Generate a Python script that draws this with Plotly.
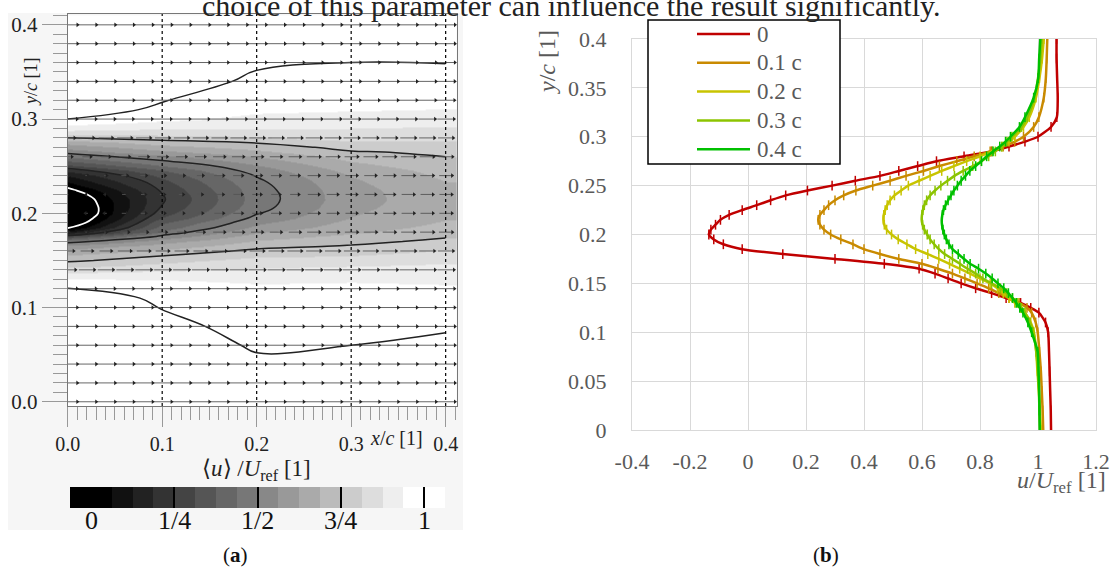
import plotly.graph_objects as go

# ---------------- data ----------------
profile_x = [0.0, 0.1, 0.2, 0.3, 0.4]          # x/c stations
series_names = ["0", "0.1 c", "0.2 c", "0.3 c", "0.4 c"]
series_colors = ["#c00000", "#c98a00", "#c8c400", "#8cc400", "#00c000"]

y_c = [0, 0.02, 0.04, 0.06, 0.08, 0.10, 0.11,
       0.12, 0.125, 0.13, 0.135, 0.14, 0.145, 0.15, 0.155, 0.16, 0.165, 0.17, 0.175,
       0.18, 0.185, 0.19, 0.195, 0.20, 0.205, 0.21, 0.215, 0.22, 0.225, 0.23, 0.235,
       0.24, 0.245, 0.25, 0.255, 0.26, 0.265, 0.27, 0.275, 0.28, 0.285, 0.29, 0.295, 0.30,
       0.31, 0.32, 0.34, 0.36, 0.38, 0.40]

u_x00 = [1.045, 1.044, 1.042, 1.040, 1.038, 1.035, 1.026,
         1.003, 0.975, 0.94, 0.89, 0.84, 0.785, 0.735, 0.69, 0.645, 0.59, 0.47, 0.30,
         0.12, -0.02, -0.085, -0.118, -0.135, -0.128, -0.112, -0.095, -0.065, -0.02, 0.03, 0.078,
         0.13, 0.205, 0.29, 0.37, 0.455, 0.52, 0.585, 0.65, 0.745, 0.84, 0.90, 0.955, 1.0,
         1.045, 1.065, 1.068, 1.066, 1.064, 1.064]
u_x01 = [1.018, 1.016, 1.013, 1.010, 1.005, 0.999, 0.992,
         0.978, 0.962, 0.935, 0.90, 0.865, 0.83, 0.79, 0.748, 0.705, 0.655, 0.60, 0.52,
         0.455, 0.40, 0.362, 0.32, 0.285, 0.262, 0.248, 0.242, 0.248, 0.262, 0.278, 0.30,
         0.33, 0.372, 0.43, 0.49, 0.545, 0.605, 0.66, 0.72, 0.78, 0.835, 0.88, 0.92, 0.95,
         0.985, 1.003, 1.02, 1.027, 1.03, 1.032]
u_x02 = [1.010, 1.007, 1.003, 0.998, 0.994, 0.986, 0.975,
         0.955, 0.94, 0.92, 0.90, 0.88, 0.86, 0.835, 0.80, 0.766, 0.73, 0.695, 0.658,
         0.62, 0.578, 0.548, 0.518, 0.495, 0.478, 0.47, 0.467, 0.468, 0.473, 0.48, 0.49,
         0.505, 0.528, 0.553, 0.59, 0.628, 0.668, 0.71, 0.754, 0.80, 0.842, 0.875, 0.90, 0.92,
         0.95, 0.97, 0.993, 1.005, 1.014, 1.02]
u_x03 = [1.007, 1.005, 1.003, 1.000, 0.994, 0.984, 0.972,
         0.955, 0.943, 0.93, 0.912, 0.892, 0.87, 0.84, 0.81, 0.785, 0.757, 0.731, 0.705,
         0.678, 0.658, 0.642, 0.628, 0.618, 0.608, 0.602, 0.599, 0.60, 0.603, 0.608, 0.616,
         0.628, 0.645, 0.665, 0.688, 0.712, 0.742, 0.775, 0.805, 0.83, 0.853, 0.875, 0.893, 0.91,
         0.943, 0.963, 0.988, 1.0, 1.008, 1.013]
u_x04 = [1.006, 1.005, 1.004, 1.002, 0.999, 0.978, 0.965,
         0.948, 0.937, 0.925, 0.912, 0.898, 0.882, 0.862, 0.842, 0.82, 0.795, 0.766, 0.745,
         0.725, 0.705, 0.693, 0.684, 0.677, 0.672, 0.669, 0.668, 0.67, 0.674, 0.681, 0.69,
         0.70, 0.71, 0.722, 0.735, 0.75, 0.765, 0.785, 0.805, 0.823, 0.845, 0.868, 0.888, 0.905,
         0.936, 0.955, 0.985, 1.001, 1.004, 1.008]
profiles = [u_x00, u_x01, u_x02, u_x03, u_x04]

# quiver grid (x/c, y/c)
arrow_x = [0.0, 0.02, 0.04, 0.06, 0.08, 0.10, 0.12, 0.14, 0.16, 0.18, 0.20,
           0.22, 0.24, 0.26, 0.28, 0.30, 0.32, 0.34, 0.36, 0.38, 0.40]
arrow_y = [0.0, 0.02, 0.04, 0.06, 0.08, 0.10, 0.12, 0.14, 0.16, 0.18, 0.20,
           0.22, 0.24, 0.26, 0.28, 0.30, 0.32, 0.34, 0.36, 0.38, 0.40]

cbar_vals = [0, 0.25, 0.5, 0.75, 1]
cbar_text = ["0", "1/4", "1/2", "3/4", "1"]
x2_ticks = [-0.4, -0.2, 0, 0.2, 0.4, 0.6, 0.8, 1.0, 1.2]
x2_text = ["-0.4", "-0.2", "0", "0.2", "0.4", "0.6", "0.8", "1", "1.2"]
y2_ticks = [0, 0.05, 0.1, 0.15, 0.2, 0.25, 0.3, 0.35, 0.4]
y2_text = ["0", "0.05", "0.1", "0.15", "0.2", "0.25", "0.3", "0.35", "0.4"]

# ---------------- figure ----------------
W, H = 1110, 578
FONT = "Liberation Serif"
GRAY = "#595959"

def px(x):
    return x / W

def py(y):
    return 1 - y / H

z = [[profiles[j][i] for j in range(len(profile_x))] for i in range(len(y_c))]

# stepped gray colorscale: 18 blocks over [-1/16, 17/16]
levels = [0] + [int(round(255 * k / 15)) for k in range(16)] + [255]
cs = []
for i, g in enumerate(levels):
    c = f"rgb({g},{g},{g})"
    cs.append([i / 18, c])
    cs.append([(i + 1) / 18, c])

CB_X0, CB_UNIT = 91, 333   # colorbar pixel position of 0 and pixels per unit

fig = go.Figure()

fig.add_trace(go.Heatmap(
    x=profile_x, y=y_c, z=z, zsmooth="best", colorscale=cs,
    zmin=-1 / 16, zmax=17 / 16, xaxis="x", yaxis="y", hoverinfo="skip",
    colorbar=dict(orientation="h", x=px(CB_X0 + CB_UNIT * 0.5), xanchor="center",
                  y=py(487), yanchor="top", len=CB_UNIT * 1.125 / W, lenmode="fraction",
                  thickness=21, thicknessmode="pixels", xpad=0, ypad=0, outlinewidth=0,
                  tickmode="array", tickvals=cbar_vals, ticktext=cbar_text,
                  ticks="inside", ticklen=21, tickwidth=1.5, tickcolor="black",
                  showticklabels=False),
))

fig.add_trace(go.Contour(
    x=profile_x, y=y_c, z=z, autocontour=False,
    contours=dict(start=0.25, end=1.0, size=0.25, coloring="none"),
    line=dict(color="#222", width=1.5, smoothing=1.2), showscale=False,
    xaxis="x", yaxis="y", hoverinfo="skip"))
fig.add_trace(go.Contour(
    x=profile_x, y=y_c, z=z, autocontour=False,
    contours=dict(start=0.0, end=0.1, size=0.2, coloring="none"),
    line=dict(color="white", width=1.8, smoothing=1.2), showscale=False,
    xaxis="x", yaxis="y", hoverinfo="skip"))

# quiver arrows (centered on grid points, length ~ local u)
seg_x, seg_y, tip_x, tip_y, tip_sym = [], [], [], [], []
for yy in arrow_y:
    i = min(range(len(y_c)), key=lambda k: abs(y_c[k] - yy))
    for xx in arrow_x:
        j = min(range(len(profile_x)), key=lambda k: abs(profile_x[k] - xx))
        u = profiles[j][i]
        half = 0.0098 * u
        seg_x += [xx - half, xx + half, None]
        seg_y += [yy, yy, None]
        tip_x.append(xx + half)
        tip_y.append(yy)
        tip_sym.append("triangle-right" if u >= 0 else "triangle-left")
fig.add_trace(go.Scatter(x=seg_x, y=seg_y, mode="lines", line=dict(color="#555", width=0.9),
                         xaxis="x", yaxis="y", hoverinfo="skip", showlegend=False))
fig.add_trace(go.Scatter(x=tip_x, y=tip_y, mode="markers",
                         marker=dict(symbol=tip_sym, size=4, color="#222"),
                         xaxis="x", yaxis="y", hoverinfo="skip", showlegend=False))

# profiles (b)
for name, col, u in zip(series_names, series_colors, profiles):
    fig.add_trace(go.Scatter(
        x=u, y=y_c, mode="lines", name=name,
        line=dict(color=col, width=2.5, shape="spline", smoothing=0.6),
        error_y=dict(type="constant", value=0.005, width=0, thickness=1.5, color=col),
        xaxis="x2", yaxis="y2", showlegend=False))

shapes = []
# panel (a) grey background
shapes.append(dict(type="rect", xref="paper", yref="paper", x0=px(8), x1=px(463),
                   y0=py(530), y1=py(13), fillcolor="#f6f6f6", line=dict(width=0), layer="below"))
# dotted profile stations
for xs in profile_x[1:]:
    shapes.append(dict(type="line", xref="x", yref="y domain", x0=xs, x1=xs, y0=0, y1=1,
                       line=dict(color="black", width=1.2, dash="dot"), layer="above"))
# manual legend
lx0, lx1, ly0, ly1 = 648, 840, 20, 164
shapes.append(dict(type="rect", xref="paper", yref="paper", x0=px(lx0), x1=px(lx1),
                   y0=py(ly1), y1=py(ly0), fillcolor="white",
                   line=dict(color="black", width=1.5), layer="above"))
annotations = []
for k, (name, col) in enumerate(zip(series_names, series_colors)):
    yy = 34 + 28.8 * k
    shapes.append(dict(type="line", xref="paper", yref="paper", x0=px(697), x1=px(750),
                       y0=py(yy), y1=py(yy), line=dict(color=col, width=2.5), layer="above"))
    annotations.append(dict(text=name, x=px(755), y=py(yy), xref="paper", yref="paper",
                            xanchor="left", yanchor="middle", showarrow=False,
                            font=dict(family=FONT, size=23, color=GRAY)))

def ann(text, x, y, size, color="#222", angle=0, xanchor="center"):
    annotations.append(dict(text=text, x=px(x), y=py(y), xref="paper", yref="paper",
                            xanchor=xanchor, yanchor="middle", showarrow=False,
                            textangle=angle, font=dict(family=FONT, size=size, color=color)))

# colorbar tick labels
for v, t in zip(cbar_vals, cbar_text):
    ann(t, CB_X0 + CB_UNIT * v, 520, 26, "#111")

ann("choice of this parameter can influence the result significantly.", 571, 5.5, 30)
ann("(<b>a</b>)", 235, 555, 21, "#111")
ann("(<b>b</b>)", 826, 555, 21, "#111")
ann("⟨<i>u</i>⟩ /<i>U</i><sub>ref</sub> [1]", 256, 470, 23)
ann("<i>x</i>/<i>c</i> [1]", 396, 438, 20)
ann("<i>y</i>/<i>c</i> [1]", 31, 82, 18, "#222", -90)
ann("<i>y</i>/<i>c</i> [1]", 547, 62, 24, GRAY, -90)
ann("<i>u</i>/<i>U</i><sub>ref</sub> [1]", 1108, 482, 24, GRAY, 0, "right")

fig.update_layout(
    width=W, height=H, margin=dict(l=0, r=0, t=0, b=0, autoexpand=False),
    paper_bgcolor="white", plot_bgcolor="rgba(0,0,0,0)", showlegend=False,
    font=dict(family=FONT, color="#222"),
    shapes=shapes, annotations=annotations,
    xaxis=dict(domain=[px(67.7), px(457)], range=[0, 0.412], tick0=0, dtick=0.1,
               tickformat=".1f", ticks="outside", ticklen=20, tickcolor="#999",
               minor=dict(tick0=0, dtick=0.01, ticks="outside", ticklen=13, tickcolor="#999"),
               showline=True, mirror=True, linecolor="#777", linewidth=1,
               showgrid=False, zeroline=False, automargin=False,
               tickfont=dict(family=FONT, size=20, color="#222"), anchor="y"),
    yaxis=dict(domain=[py(406), py(14)], range=[-0.0045, 0.4115], tick0=0, dtick=0.1,
               tickformat=".1f", ticks="outside", ticklen=25, tickcolor="#999",
               minor=dict(tick0=0, dtick=0.01, ticks="outside", ticklen=14, tickcolor="#999"),
               showline=True, mirror=True, linecolor="#777", linewidth=1,
               showgrid=False, zeroline=False, automargin=False,
               tickfont=dict(family=FONT, size=21, color="#222"), anchor="x"),
    xaxis2=dict(domain=[px(632), px(1096)], range=[-0.4, 1.2], tickmode="array",
                tickvals=x2_ticks, ticktext=x2_text, showgrid=True, gridcolor="#d9d9d9",
                gridwidth=1, showline=True, mirror=True, linecolor="#d9d9d9", zeroline=False,
                ticks="", ticklabelstandoff=12, automargin=False,
                tickfont=dict(family=FONT, size=22, color=GRAY), anchor="y2"),
    yaxis2=dict(domain=[py(430), py(39)], range=[0, 0.4], tickmode="array",
                tickvals=y2_ticks, ticktext=y2_text, showgrid=True, gridcolor="#d9d9d9",
                gridwidth=1, showline=True, mirror=True, linecolor="#d9d9d9", zeroline=False,
                ticks="", ticklabelstandoff=20, automargin=False,
                tickfont=dict(family=FONT, size=22, color=GRAY), anchor="x2"),
)

fig.write_html("out.html")
